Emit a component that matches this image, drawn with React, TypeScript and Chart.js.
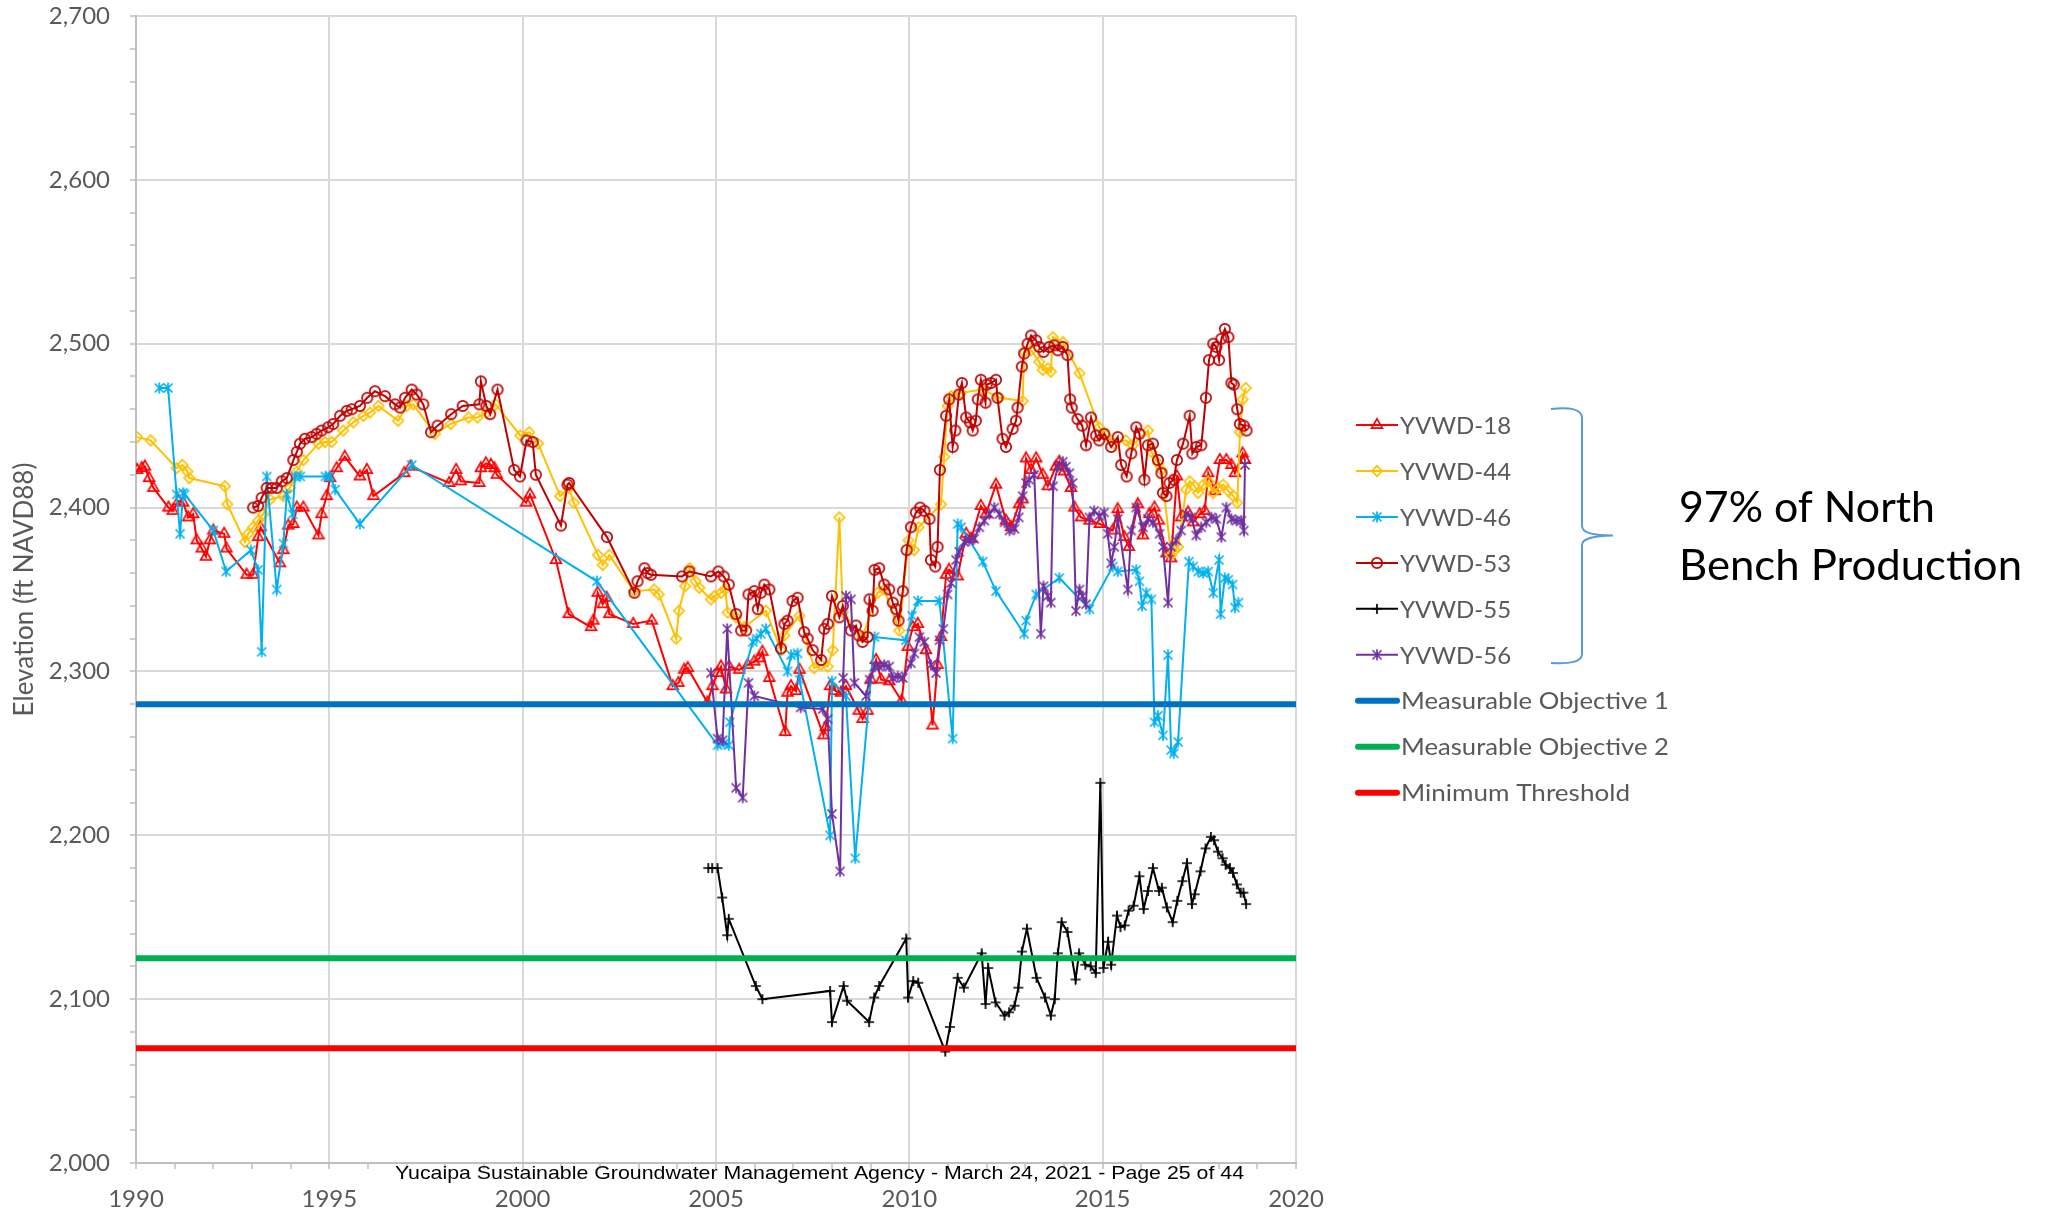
import React, { useEffect, useRef } from 'react';
import { Chart, registerables } from 'chart.js';

Chart.register(...registerables);

// ---------------- data ----------------
const yvwd18Dates = [1990.03, 1990.15, 1990.23, 1990.34, 1990.45, 1990.84, 1990.95, 1991.1, 1991.22, 1991.35, 1991.48, 1991.57, 1991.7, 1991.81, 1991.91, 1992.0, 1992.28, 1992.34, 1992.86, 1993.03, 1993.16, 1993.22, 1993.72, 1993.81, 1993.94, 1994.07, 1994.16, 1994.33, 1994.72, 1994.8, 1994.93, 1995.02, 1995.19, 1995.4, 1995.79, 1995.97, 1996.14, 1996.94, 1997.1, 1998.1, 1998.28, 1998.4, 1998.88, 1998.92, 1999.05, 1999.18, 1999.27, 1999.33, 2000.09, 2000.19, 2000.86, 2001.19, 2001.77, 2001.83, 2001.94, 2002.07, 2002.17, 2002.24, 2002.86, 2003.34, 2003.88, 2004.03, 2004.18, 2004.27, 2004.78, 2004.91, 2005.04, 2005.13, 2005.26, 2005.34, 2005.6, 2005.82, 2005.99, 2006.12, 2006.2, 2006.38, 2006.79, 2006.85, 2006.94, 2007.07, 2007.16, 2007.78, 2007.84, 2007.95, 2008.1, 2008.23, 2008.36, 2008.69, 2008.79, 2008.92, 2009.0, 2009.14, 2009.27, 2009.48, 2009.8, 2009.96, 2010.09, 2010.22, 2010.43, 2010.6, 2010.73, 2010.82, 2010.95, 2011.03, 2011.25, 2011.47, 2011.6, 2011.85, 2011.98, 2012.24, 2012.5, 2012.63, 2012.84, 2012.93, 2013.02, 2013.15, 2013.28, 2013.45, 2013.58, 2013.79, 2013.88, 2014.0, 2014.18, 2014.27, 2014.44, 2014.66, 2014.93, 2015.26, 2015.39, 2015.56, 2015.68, 2015.91, 2016.04, 2016.21, 2016.34, 2016.45, 2016.65, 2016.77, 2016.92, 2017.03, 2017.21, 2017.34, 2017.51, 2017.64, 2017.73, 2017.9, 2018.03, 2018.2, 2018.33, 2018.42, 2018.62, 2018.68];
const yvwd18Elev = [2423, 2424, 2425, 2418, 2412, 2400, 2398, 2404, 2403, 2394, 2396, 2380, 2375, 2370, 2380, 2386, 2384, 2375, 2359, 2359, 2382, 2388, 2366, 2374, 2389, 2390, 2400, 2400, 2383, 2396, 2407, 2418, 2424, 2431, 2419, 2423, 2407, 2421, 2425, 2415, 2423, 2416, 2415, 2424, 2427, 2426, 2424, 2420, 2403, 2408, 2368, 2335, 2327, 2331, 2348, 2341, 2345, 2335, 2329, 2331, 2291, 2293, 2301, 2302, 2281, 2291, 2299, 2303, 2289, 2303, 2301, 2304, 2306, 2308, 2312, 2296, 2263, 2287, 2291, 2288, 2301, 2261, 2266, 2291, 2288, 2287, 2291, 2276, 2271, 2276, 2295, 2307, 2295, 2294, 2282, 2315, 2327, 2329, 2313, 2267, 2304, 2321, 2359, 2362, 2358, 2384, 2381, 2401, 2396, 2414, 2392, 2388, 2402, 2405, 2430, 2423, 2430, 2420, 2413, 2425, 2428, 2422, 2412, 2400, 2394, 2392, 2390, 2386, 2399, 2382, 2376, 2402, 2383, 2396, 2400, 2392, 2372, 2369, 2419, 2394, 2397, 2391, 2396, 2398, 2421, 2410, 2429, 2429, 2426, 2421, 2433, 2429];

const yvwd44Dates = [1990.03, 1990.38, 1991.05, 1991.2, 1991.33, 1991.38, 1992.3, 1992.36, 1992.82, 1992.9, 1993.03, 1993.16, 1993.29, 1993.47, 1993.81, 1993.98, 1994.16, 1994.33, 1994.72, 1994.89, 1995.06, 1995.36, 1995.62, 1995.88, 1996.05, 1996.27, 1996.78, 1997.0, 1997.17, 1997.73, 1998.14, 1998.6, 1998.83, 1999.07, 1999.3, 1999.94, 2000.17, 2000.4, 2000.97, 2001.2, 2001.32, 2001.95, 2002.07, 2002.24, 2002.88, 2003.4, 2003.52, 2003.97, 2004.04, 2004.2, 2004.32, 2004.47, 2004.57, 2004.87, 2004.96, 2005.13, 2005.24, 2005.3, 2005.52, 2005.73, 2006.29, 2006.68, 2006.77, 2007.16, 2007.54, 2007.72, 2007.89, 2008.02, 2008.19, 2008.28, 2008.79, 2009.18, 2009.35, 2009.74, 2009.98, 2010.12, 2010.24, 2010.82, 2010.9, 2010.99, 2011.08, 2011.34, 2011.9, 2012.33, 2012.93, 2012.97, 2013.15, 2013.36, 2013.45, 2013.58, 2013.66, 2013.71, 2013.97, 2014.4, 2014.91, 2015.09, 2015.3, 2015.6, 2015.78, 2016.17, 2016.26, 2016.43, 2016.52, 2016.77, 2016.86, 2016.95, 2017.16, 2017.25, 2017.38, 2017.47, 2017.6, 2017.73, 2017.86, 2017.99, 2018.12, 2018.25, 2018.38, 2018.48, 2018.55, 2018.62, 2018.7];
const yvwd44Elev = [2443, 2441, 2424, 2426, 2422, 2418, 2413, 2402, 2379, 2384, 2388, 2392, 2396, 2405, 2407, 2412, 2422, 2429, 2439, 2440, 2440, 2447, 2452, 2456, 2458, 2462, 2453, 2462, 2463, 2445, 2451, 2455, 2455, 2458, 2463, 2444, 2446, 2439, 2407, 2412, 2403, 2371, 2365, 2371, 2349, 2350, 2347, 2320, 2337, 2352, 2363, 2355, 2351, 2344, 2346, 2348, 2350, 2336, 2333, 2327, 2337, 2313, 2322, 2334, 2302, 2304, 2303, 2313, 2394, 2336, 2321, 2348, 2350, 2325, 2380, 2374, 2388, 2402, 2431, 2462, 2468, 2470, 2472, 2467, 2465, 2495, 2496, 2489, 2484, 2485, 2483, 2504, 2501, 2482, 2449, 2444, 2439, 2441, 2438, 2447, 2434, 2427, 2423, 2371, 2374, 2376, 2411, 2416, 2413, 2409, 2414, 2416, 2409, 2412, 2414, 2410, 2407, 2403, 2446, 2466, 2473];

const yvwd46Dates = [1990.6, 1990.83, 1991.05, 1991.14, 1991.22, 1991.26, 1992.0, 1992.33, 1992.97, 1993.16, 1993.25, 1993.38, 1993.64, 1993.81, 1993.9, 1994.05, 1994.11, 1994.25, 1994.9, 1995.02, 1995.15, 1995.79, 1997.13, 2001.92, 2005.04, 2005.2, 2005.33, 2005.36, 2005.95, 2006.05, 2006.16, 2006.29, 2006.85, 2006.94, 2007.11, 2007.16, 2007.95, 2008.0, 2008.36, 2008.6, 2009.1, 2009.91, 2010.07, 2010.22, 2010.78, 2011.12, 2011.25, 2011.34, 2011.9, 2012.24, 2012.97, 2013.02, 2013.28, 2013.88, 2014.66, 2015.26, 2015.39, 2015.87, 2015.95, 2016.02, 2016.13, 2016.26, 2016.34, 2016.43, 2016.56, 2016.69, 2016.77, 2016.84, 2016.95, 2017.23, 2017.34, 2017.47, 2017.6, 2017.73, 2017.86, 2018.01, 2018.05, 2018.16, 2018.25, 2018.36, 2018.42, 2018.51];
const yvwd46Elev = [2473, 2473, 2408, 2384, 2409, 2408, 2386, 2361, 2374, 2362, 2312, 2419, 2350, 2378, 2408, 2396, 2419, 2419, 2419, 2419, 2411, 2390, 2426, 2355, 2255, 2256, 2255, 2269, 2318, 2320, 2323, 2326, 2300, 2310, 2311, 2295, 2200, 2294, 2285, 2186, 2321, 2319, 2334, 2343, 2343, 2259, 2390, 2388, 2367, 2349, 2323, 2331, 2347, 2357, 2338, 2364, 2361, 2362, 2355, 2340, 2348, 2344, 2269, 2273, 2261, 2310, 2252, 2250, 2257, 2367, 2364, 2361, 2360, 2361, 2348, 2368, 2335, 2357, 2356, 2353, 2339, 2342];

const yvwd53Dates = [1993.03, 1993.16, 1993.25, 1993.38, 1993.51, 1993.64, 1993.77, 1993.9, 1994.07, 1994.16, 1994.24, 1994.37, 1994.54, 1994.67, 1994.8, 1994.97, 1995.1, 1995.28, 1995.45, 1995.58, 1995.79, 1995.98, 1996.18, 1996.44, 1996.7, 1996.83, 1996.96, 1997.13, 1997.26, 1997.43, 1997.63, 1997.8, 1998.15, 1998.45, 1998.88, 1998.92, 1999.06, 1999.16, 1999.35, 1999.78, 1999.93, 2000.1, 2000.26, 2000.34, 2000.99, 2001.16, 2001.2, 2002.18, 2002.89, 2002.97, 2003.15, 2003.23, 2003.32, 2004.12, 2004.31, 2004.87, 2005.06, 2005.2, 2005.33, 2005.52, 2005.65, 2005.78, 2005.84, 2005.99, 2006.08, 2006.16, 2006.25, 2006.38, 2006.68, 2006.77, 2006.85, 2006.98, 2007.11, 2007.28, 2007.37, 2007.5, 2007.72, 2007.8, 2007.89, 2008.0, 2008.19, 2008.28, 2008.49, 2008.62, 2008.69, 2008.79, 2008.92, 2008.97, 2009.05, 2009.1, 2009.22, 2009.35, 2009.48, 2009.57, 2009.66, 2009.72, 2009.83, 2009.93, 2010.04, 2010.17, 2010.28, 2010.39, 2010.52, 2010.56, 2010.67, 2010.73, 2010.79, 2010.95, 2011.03, 2011.12, 2011.19, 2011.28, 2011.36, 2011.47, 2011.57, 2011.64, 2011.72, 2011.77, 2011.85, 2011.97, 2012.0, 2012.11, 2012.24, 2012.28, 2012.41, 2012.5, 2012.67, 2012.76, 2012.8, 2012.91, 2012.97, 2013.06, 2013.15, 2013.28, 2013.36, 2013.47, 2013.62, 2013.75, 2013.84, 2013.97, 2014.09, 2014.16, 2014.2, 2014.35, 2014.47, 2014.57, 2014.7, 2014.83, 2014.91, 2015.04, 2015.22, 2015.39, 2015.48, 2015.62, 2015.74, 2015.87, 2015.95, 2016.08, 2016.17, 2016.3, 2016.43, 2016.52, 2016.56, 2016.65, 2016.73, 2016.84, 2016.92, 2017.08, 2017.25, 2017.32, 2017.42, 2017.55, 2017.67, 2017.75, 2017.86, 2017.94, 2018.01, 2018.07, 2018.16, 2018.25, 2018.33, 2018.39, 2018.48, 2018.55, 2018.65, 2018.72];
const yvwd53Elev = [2400, 2401, 2406, 2412, 2412, 2412, 2416, 2418, 2429, 2434, 2439, 2442, 2443, 2445, 2447, 2449, 2451, 2456, 2459, 2460, 2462, 2467, 2471, 2468, 2463, 2461, 2467, 2472, 2469, 2463, 2446, 2450, 2457, 2462, 2463, 2477, 2462, 2457, 2472, 2423, 2419, 2441, 2440, 2420, 2389, 2414, 2415, 2382, 2348, 2355, 2363, 2360, 2359, 2358, 2361, 2358, 2361, 2358, 2353, 2335, 2325, 2325, 2347, 2349, 2338, 2348, 2353, 2350, 2314, 2329, 2331, 2343, 2345, 2324, 2320, 2313, 2307, 2326, 2329, 2346, 2333, 2340, 2325, 2328, 2322, 2318, 2321, 2344, 2337, 2362, 2363, 2353, 2350, 2342, 2338, 2331, 2349, 2374, 2388, 2397, 2400, 2398, 2393, 2368, 2364, 2376, 2423, 2456, 2466, 2437, 2447, 2469, 2476, 2455, 2452, 2447, 2453, 2466, 2478, 2464, 2475, 2476, 2478, 2467, 2442, 2437, 2448, 2453, 2461, 2486, 2494, 2500, 2505, 2502, 2498, 2495, 2498, 2499, 2496, 2498, 2493, 2466, 2461, 2454, 2450, 2438, 2455, 2444, 2441, 2445, 2437, 2443, 2426, 2419, 2433, 2449, 2445, 2417, 2438, 2439, 2429, 2421, 2409, 2407, 2415, 2417, 2429, 2439, 2456, 2433, 2437, 2438, 2467, 2490, 2500, 2498, 2490, 2503, 2509, 2504, 2476, 2475, 2460, 2451, 2450, 2447];

const yvwd55Dates = [2004.8, 2004.9, 2005.04, 2005.16, 2005.29, 2005.33, 2006.03, 2006.2, 2007.95, 2008.0, 2008.3, 2008.39, 2008.96, 2009.09, 2009.22, 2009.92, 2009.97, 2010.1, 2010.23, 2010.93, 2011.05, 2011.25, 2011.41, 2011.87, 2011.97, 2012.04, 2012.23, 2012.46, 2012.58, 2012.72, 2012.82, 2012.91, 2013.04, 2013.29, 2013.51, 2013.66, 2013.76, 2013.84, 2013.94, 2014.09, 2014.3, 2014.39, 2014.55, 2014.69, 2014.82, 2014.94, 2015.02, 2015.14, 2015.22, 2015.37, 2015.46, 2015.57, 2015.67, 2015.8, 2015.95, 2016.06, 2016.17, 2016.3, 2016.46, 2016.53, 2016.66, 2016.81, 2016.93, 2017.06, 2017.18, 2017.31, 2017.38, 2017.53, 2017.66, 2017.8, 2017.88, 2017.98, 2018.1, 2018.18, 2018.29, 2018.37, 2018.47, 2018.57, 2018.64, 2018.71];
const yvwd55Elev = [2180, 2180, 2180, 2162, 2139, 2149, 2108, 2100, 2105, 2086, 2108, 2099, 2086, 2101, 2108, 2137, 2101, 2111, 2110, 2068, 2083, 2113, 2107, 2128, 2097, 2119, 2098, 2090, 2092, 2096, 2107, 2129, 2143, 2113, 2101, 2090, 2100, 2128, 2147, 2141, 2112, 2128, 2121, 2120, 2116, 2232, 2119, 2135, 2121, 2151, 2144, 2145, 2154, 2157, 2175, 2155, 2166, 2180, 2166, 2168, 2156, 2147, 2160, 2172, 2183, 2158, 2164, 2178, 2192, 2199, 2197, 2190, 2186, 2182, 2180, 2177, 2170, 2165, 2165, 2158];

const yvwd56Dates = [2004.87, 2005.04, 2005.17, 2005.29, 2005.52, 2005.69, 2005.84, 2005.99, 2007.19, 2007.76, 2007.89, 2008.0, 2008.21, 2008.29, 2008.36, 2008.49, 2008.58, 2008.88, 2008.97, 2009.1, 2009.22, 2009.35, 2009.48, 2009.57, 2009.7, 2009.83, 2010.04, 2010.13, 2010.26, 2010.39, 2010.56, 2010.69, 2010.78, 2010.88, 2010.99, 2011.08, 2011.21, 2011.29, 2011.42, 2011.55, 2011.68, 2011.81, 2011.94, 2012.07, 2012.2, 2012.33, 2012.46, 2012.59, 2012.72, 2012.83, 2012.93, 2013.02, 2013.1, 2013.23, 2013.4, 2013.47, 2013.58, 2013.66, 2013.72, 2013.84, 2013.97, 2014.05, 2014.14, 2014.22, 2014.31, 2014.4, 2014.48, 2014.57, 2014.66, 2014.78, 2014.91, 2015.04, 2015.13, 2015.22, 2015.3, 2015.39, 2015.65, 2015.74, 2015.87, 2016.04, 2016.17, 2016.3, 2016.47, 2016.56, 2016.69, 2016.77, 2016.9, 2017.03, 2017.16, 2017.29, 2017.42, 2017.55, 2017.68, 2017.81, 2017.94, 2018.07, 2018.2, 2018.33, 2018.46, 2018.59, 2018.65, 2018.68];
const yvwd56Elev = [2299, 2259, 2258, 2326, 2229, 2223, 2293, 2285, 2278, 2277, 2271, 2213, 2178, 2296, 2346, 2344, 2293, 2285, 2295, 2303, 2303, 2304, 2303, 2296, 2297, 2296, 2305, 2311, 2321, 2318, 2304, 2299, 2319, 2326, 2347, 2354, 2368, 2373, 2379, 2380, 2381, 2388, 2392, 2396, 2400, 2396, 2391, 2386, 2387, 2394, 2407, 2415, 2417, 2420, 2323, 2352, 2346, 2342, 2413, 2425, 2428, 2425, 2421, 2415, 2337, 2350, 2346, 2341, 2394, 2398, 2395, 2397, 2384, 2366, 2376, 2393, 2350, 2386, 2400, 2388, 2393, 2391, 2384, 2376, 2342, 2376, 2380, 2386, 2396, 2394, 2383, 2388, 2391, 2394, 2393, 2382, 2400, 2393, 2392, 2392, 2386, 2426];

const wellNames = ['YVWD-18', 'YVWD-44', 'YVWD-46', 'YVWD-53', 'YVWD-55', 'YVWD-56'];
const wellColors = ['#FF0000', '#FFC000', '#00B0F0', '#C00000', '#000000', '#7030A0'];
const wellMarkers = ['triangle', 'diamond', 'star', 'circle', 'plus', 'star'];

const thresholdNames = ['Measurable Objective 1', 'Measurable Objective 2', 'Minimum Threshold'];
const thresholdValues = [2280, 2125, 2070];
const thresholdColors = ['#0070C0', '#00B050', '#FF0000'];

const xRange = [1990, 2020];
const yRange = [2000, 2700];

const yTitle = 'Elevation (ft NAVD88)';
const noteLines = ['97% of North', 'Bench Production'];
const footerText = 'Yucaipa Sustainable Groundwater Management Agency - March 24, 2021 - Page 25 of 44';

// ---------------- helpers ----------------
const GRAY = '#595959';
const FONT = 'Lato, "Open Sans", sans-serif';

function makeMarker(kind: string, color: string): HTMLCanvasElement {
  const c = document.createElement('canvas');
  c.width = 18;
  c.height = 18;
  const g = c.getContext('2d') as CanvasRenderingContext2D;
  g.strokeStyle = color;
  g.lineWidth = 1.7;
  const cx = 9;
  const cy = 9;
  g.beginPath();
  if (kind === 'triangle') {
    const r = 6.2;
    g.moveTo(cx, cy - r);
    g.lineTo(cx + r * 0.866, cy + r * 0.5);
    g.lineTo(cx - r * 0.866, cy + r * 0.5);
    g.closePath();
  } else if (kind === 'diamond') {
    const r = 5.2;
    g.moveTo(cx, cy - r);
    g.lineTo(cx + r, cy);
    g.lineTo(cx, cy + r);
    g.lineTo(cx - r, cy);
    g.closePath();
  } else if (kind === 'circle') {
    g.arc(cx, cy, 5.2, 0, Math.PI * 2);
  } else if (kind === 'plus') {
    const r = 5;
    g.moveTo(cx - r, cy);
    g.lineTo(cx + r, cy);
    g.moveTo(cx, cy - r);
    g.lineTo(cx, cy + r);
  } else {
    const r = 5.6;
    const d = r * 0.8;
    g.moveTo(cx, cy - r);
    g.lineTo(cx, cy + r);
    g.moveTo(cx - d, cy - d);
    g.lineTo(cx + d, cy + d);
    g.moveTo(cx - d, cy + d);
    g.lineTo(cx + d, cy - d);
  }
  g.stroke();
  return c;
}

const toPoints = (xs: number[], ys: number[]) => xs.map((x, i) => ({ x, y: ys[i] }));

function fitText(ctx: CanvasRenderingContext2D, text: string, x: number, y: number, width: number) {
  const w = ctx.measureText(text).width;
  ctx.save();
  ctx.translate(x, y);
  ctx.scale(width / w, 1);
  ctx.fillText(text, 0, 0);
  ctx.restore();
}

export default function App() {
  const canvasRef = useRef<HTMLCanvasElement | null>(null);

  useEffect(() => {
    const canvas = canvasRef.current;
    if (!canvas) return;

    const seriesDates = [yvwd18Dates, yvwd44Dates, yvwd46Dates, yvwd53Dates, yvwd55Dates, yvwd56Dates];
    const seriesElev = [yvwd18Elev, yvwd44Elev, yvwd46Elev, yvwd53Elev, yvwd55Elev, yvwd56Elev];
    const markers = wellColors.map((c, i) => makeMarker(wellMarkers[i], c));

    const wellSets = wellNames.map((name, i) => ({
      label: name,
      data: toPoints(seriesDates[i], seriesElev[i]),
      borderColor: wellColors[i],
      backgroundColor: wellColors[i],
      borderWidth: 2,
      pointStyle: markers[i],
      pointRadius: 5,
      tension: 0,
      order: 10 - i,
    }));

    const thresholdSets = thresholdNames.map((name, i) => ({
      label: name,
      data: [
        { x: xRange[0], y: thresholdValues[i] },
        { x: xRange[1], y: thresholdValues[i] },
      ],
      borderColor: thresholdColors[i],
      backgroundColor: thresholdColors[i],
      borderWidth: 6,
      pointRadius: 0,
      tension: 0,
      order: 3 - i,
    }));

    const thresholdLabelWidths = [268, 268, 229];

    const overlay = {
      id: 'overlay',
      afterDraw(chart: any) {
        const ctx: CanvasRenderingContext2D = chart.ctx;
        ctx.save();
        // legend
        const lx0 = 1356;
        const lx1 = 1398;
        const ly0 = 425;
        const step = 45.96;
        ctx.font = `24px ${FONT}`;
        ctx.textBaseline = 'middle';
        ctx.textAlign = 'left';
        wellNames.forEach((name, i) => {
          const y = ly0 + i * step;
          ctx.strokeStyle = wellColors[i];
          ctx.lineWidth = 2;
          ctx.beginPath();
          ctx.moveTo(lx0, y);
          ctx.lineTo(lx1, y);
          ctx.stroke();
          const m = markers[i];
          ctx.drawImage(m, (lx0 + lx1) / 2 - m.width / 2, y - m.height / 2);
          ctx.fillStyle = GRAY;
          ctx.fillText(name, 1400, y + 1);
        });
        thresholdNames.forEach((name, i) => {
          const y = ly0 + (wellNames.length + i) * step;
          ctx.strokeStyle = thresholdColors[i];
          ctx.lineWidth = 6;
          ctx.lineCap = 'round';
          ctx.beginPath();
          ctx.moveTo(lx0 + 2, y);
          ctx.lineTo(lx1 - 1, y);
          ctx.stroke();
          ctx.lineCap = 'butt';
          ctx.fillStyle = GRAY;
          fitText(ctx, name, 1401, y + 1, thresholdLabelWidths[i]);
        });

        // brace
        ctx.strokeStyle = '#5B9BD5';
        ctx.lineWidth = 2;
        ctx.beginPath();
        ctx.moveTo(1551, 409);
        ctx.bezierCurveTo(1570, 407, 1582, 409, 1582, 418);
        ctx.lineTo(1582, 526);
        ctx.bezierCurveTo(1582, 533, 1595, 535.5, 1613, 535.5);
        ctx.bezierCurveTo(1595, 536, 1582, 538, 1582, 545);
        ctx.lineTo(1582, 654);
        ctx.bezierCurveTo(1582, 662, 1570, 664, 1551, 663);
        ctx.stroke();

        // note text
        ctx.fillStyle = '#000000';
        ctx.font = `43px ${FONT}`;
        ctx.textBaseline = 'alphabetic';
        fitText(ctx, noteLines[0], 1679, 522, 256);
        fitText(ctx, noteLines[1], 1679, 580, 343);

        // footer
        ctx.font = '19px "Liberation Sans", Arial, sans-serif';
        fitText(ctx, footerText, 395, 1179, 849);
        ctx.restore();
      },
    };

    const chart = new Chart(canvas, {
      type: 'line',
      data: { datasets: [...wellSets, ...thresholdSets] as any },
      options: {
        responsive: false,
        animation: false,
        events: [],
        layout: { padding: { left: 0, top: 16, right: 753, bottom: 0 } },
        plugins: { legend: { display: false }, tooltip: { enabled: false } },
        scales: {
          x: {
            type: 'linear',
            min: xRange[0],
            max: xRange[1],
            afterFit: (s: any) => {
              s.height = 51;
            },
            ticks: {
              stepSize: 1,
              autoSkip: false,
              maxRotation: 0,
              color: GRAY,
              font: { family: FONT, size: 24 },
              padding: 16,
              callback: (v: any) => (Math.round(v) % 5 === 0 ? String(v) : ''),
            },
            grid: {
              color: (c: any) => (c.tick && Math.round(c.tick.value) % 5 === 0 ? '#D9D9D9' : 'rgba(0,0,0,0)'),
              lineWidth: 2,
              tickLength: 6,
              tickColor: '#BFBFBF',
              tickWidth: 1.5,
            },
            border: { color: '#BFBFBF', width: 2 },
          },
          y: {
            type: 'linear',
            min: yRange[0],
            max: yRange[1],
            afterFit: (s: any) => {
              s.width = 136;
              s.paddingTop = 0;
              s.paddingBottom = 0;
            },
            ticks: {
              stepSize: 20,
              autoSkip: false,
              color: GRAY,
              font: { family: FONT, size: 24 },
              padding: 20,
              callback: (v: any) => (Math.round(v) % 100 === 0 ? Number(v).toLocaleString('en-US') : ''),
            },
            grid: {
              color: (c: any) => (c.tick && Math.round(c.tick.value) % 100 === 0 ? '#D9D9D9' : 'rgba(0,0,0,0)'),
              lineWidth: 2,
              tickLength: 6,
              tickColor: '#BFBFBF',
              tickWidth: 1.5,
            },
            border: { color: '#BFBFBF', width: 2 },
            title: {
              display: true,
              text: yTitle,
              color: GRAY,
              font: { family: FONT, size: 26 },
              padding: { top: 9, bottom: 0 },
            },
          },
        },
      },
      plugins: [overlay],
    });

    return () => {
      chart.destroy();
    };
  }, []);

  return (
    <div style={{ position: 'fixed', left: 0, top: 0, width: 2049, height: 1214, background: '#ffffff' }}>
      <canvas ref={canvasRef} width={2049} height={1214} style={{ display: 'block', width: 2049, height: 1214 }} />
    </div>
  );
}
